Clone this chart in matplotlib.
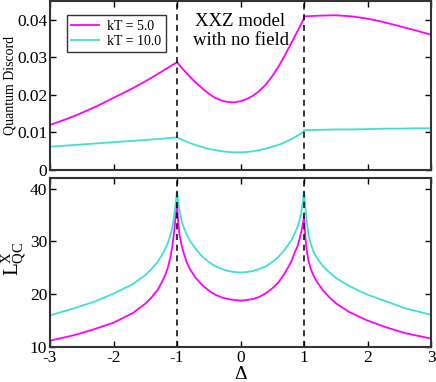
import numpy as np
import matplotlib.pyplot as plt
from matplotlib.ticker import FuncFormatter

plt.rcParams['font.family'] = ['Liberation Serif', 'DejaVu Serif']
plt.rcParams['mathtext.fontset'] = 'custom'
plt.rcParams['mathtext.rm'] = 'Liberation Serif'
plt.rcParams['axes.unicode_minus'] = False

# quantum discord vs Delta (Delta = 1 listed twice for the jump)
qd_delta = [-3, -2.75, -2.5, -2.25, -2, -1.75, -1.5, -1.25, -1,
            -0.9, -0.8, -0.7, -0.6, -0.5, -0.4, -0.3, -0.2, -0.1, 0,
            0.1, 0.2, 0.3, 0.4, 0.5, 0.6, 0.7, 0.8, 0.9, 1.0,
            1.0, 1.25, 1.5, 1.75, 2, 2.25, 2.5, 2.75, 3]
qd_kt5 = [0.0120, 0.0135, 0.0152, 0.0171, 0.0192, 0.0213, 0.0236, 0.0261, 0.0287,
          0.0267, 0.0249, 0.0232, 0.0217, 0.0203, 0.0192, 0.0185, 0.0181, 0.0180, 0.0183,
          0.0189, 0.0198, 0.0211, 0.0228, 0.0250, 0.0276, 0.0306, 0.0338, 0.0371, 0.0404,
          0.0409, 0.0411, 0.0412, 0.0409, 0.0403, 0.0394, 0.0383, 0.0372, 0.0360]
qd_kt10 = [0.0062, 0.0065, 0.0068, 0.0071, 0.0074, 0.0077, 0.0080, 0.0083, 0.0087,
           0.0079, 0.0072, 0.0066, 0.0061, 0.0056, 0.0053, 0.0050, 0.0048, 0.0047, 0.0047,
           0.0048, 0.0050, 0.0053, 0.0057, 0.0062, 0.0067, 0.0074, 0.0082, 0.0092, 0.0103,
           0.0106, 0.0107, 0.0108, 0.0108, 0.0109, 0.0110, 0.0110, 0.0111, 0.0111]

# L_QC^X vs Delta
l_delta = [-3, -2.6, -2.3, -2.0, -1.7, -1.5, -1.4, -1.3, -1.2, -1.15, -1.1, -1.07, -1.04,
           -1.02, -1.01, -1.005, -1.0,
           -0.995, -0.99, -0.98, -0.96, -0.93, -0.9, -0.85, -0.8, -0.7, -0.6, -0.5, -0.4,
           -0.3, -0.2, -0.1, 0, 0.1, 0.2, 0.3, 0.4, 0.5, 0.6, 0.7, 0.8, 0.85, 0.9, 0.93,
           0.96, 0.98, 0.99, 0.995, 1.0,
           1.005, 1.01, 1.02, 1.04, 1.07, 1.1, 1.15, 1.2, 1.3, 1.4, 1.5, 1.7, 2.0, 2.3,
           2.6, 3.0]
l_kt5 = [11.2, 12.3, 13.4, 14.6, 16.4, 18.2, 19.4, 20.9, 23.2, 24.8, 27.2, 29.4, 32.4,
         35.3, 36.5, 37.0, 37.2,
         36.5, 35.2, 33.3, 31.2, 29.4, 28.0, 26.1, 24.8, 23.0, 21.7, 20.7, 19.9,
         19.4, 19.1, 18.9, 18.8, 18.9, 19.1, 19.5, 20.2, 21.1, 22.3, 24.0, 26.2, 27.8, 29.2, 30.5,
         32.0, 33.2, 33.9, 34.3, 34.5,
         34.0, 32.8, 30.8, 28.5, 26.3, 25.0, 23.5, 22.4, 20.7, 19.4, 18.3, 16.7, 15.0, 13.7,
         12.6, 11.6]
l_kt10 = [16.0, 17.4, 18.6, 20.1, 21.9, 23.6, 24.8, 26.2, 28.2, 29.5, 31.3, 32.8, 35.2,
          37.3, 38.5, 39.2, 39.5,
          39.2, 38.6, 37.5, 35.8, 34.0, 32.8, 31.4, 30.2, 28.5, 27.1, 26.1, 25.3,
          24.8, 24.4, 24.2, 24.1, 24.2, 24.4, 24.8, 25.3, 26.1, 27.1, 28.5, 30.2, 31.4, 32.8, 34.0,
          35.8, 37.5, 38.6, 39.2, 39.5,
          39.0, 38.0, 36.5, 34.0, 31.2, 29.8, 28.0, 26.9, 25.3, 24.1, 23.1, 21.6, 19.9, 18.6,
          17.3, 16.1]

magenta = '#ff00ff'
cyan = '#40e0d0'

fig = plt.figure(figsize=(4.36, 3.82), dpi=100)
ax1 = fig.add_axes([0.1147, 0.555, 0.874, 0.4424])
ax2 = fig.add_axes([0.1147, 0.0916, 0.874, 0.4424])

ax1.plot(qd_delta, qd_kt5, color=magenta, lw=1.3, label='kT = 5.0')
ax1.plot(qd_delta, qd_kt10, color=cyan, lw=1.3, label='kT = 10.0')
ax2.plot(l_delta, l_kt5, color=magenta, lw=1.3)
ax2.plot(l_delta, l_kt10, color=cyan, lw=1.3)

for ax in (ax1, ax2):
    ax.axvline(-1, color='black', ls=(0, (4, 3)), lw=1.1)
    ax.axvline(1, color='black', ls=(0, (4, 3)), lw=1.1)
    ax.set_xlim(-3, 3)
    ax.set_xticks([-3, -2, -1, 0, 1, 2, 3])
    ax.tick_params(direction='in', top=True, right=True, length=4, width=1,
                   labelsize=12.5, pad=2)
    for sp in ax.spines.values():
        sp.set_linewidth(1.5)
        sp.set_color('#333333')

ax1.set_ylim(0, 0.045)
ax1.set_yticks([0, 0.01, 0.02, 0.03, 0.04])
ax1.yaxis.set_major_formatter(FuncFormatter(lambda v, p: '0' if v == 0 else f'{v:.2f}'))
ax1.tick_params(labelbottom=False)
ax1.set_ylabel('Quantum Discord', fontsize=10)
ax1.yaxis.set_label_coords(-0.105, 0.5)
ax1.yaxis.label.set_va('center')

ax2.set_ylim(10, 42)
ax2.set_yticks([10, 20, 30, 40])
ax2.set_ylabel(r'$\mathrm{L^{X}_{QC}}$', fontsize=15)
ax2.yaxis.set_label_coords(-0.095, 0.52)
ax2.yaxis.label.set_va('center')
ax2.set_xlabel('Δ', fontsize=14)
ax2.xaxis.set_label_coords(0.5, -0.165)
ax2.xaxis.label.set_va('center')

leg = ax1.legend(loc='upper left', bbox_to_anchor=(0.045, 0.915), fontsize=10,
                 frameon=True, fancybox=False, framealpha=1, edgecolor='#333333',
                 handlelength=2.0, borderpad=0.3, labelspacing=0.15, handletextpad=0.6,
                 borderaxespad=0)
leg.get_frame().set_linewidth(1.0)

ax1.text(0, 0.93, 'XXZ model\nwith no field', transform=ax1.get_xaxis_transform(),
         ha='center', va='top', fontsize=13.5, linespacing=1.15)

fig.savefig('out.png', dpi=100)
